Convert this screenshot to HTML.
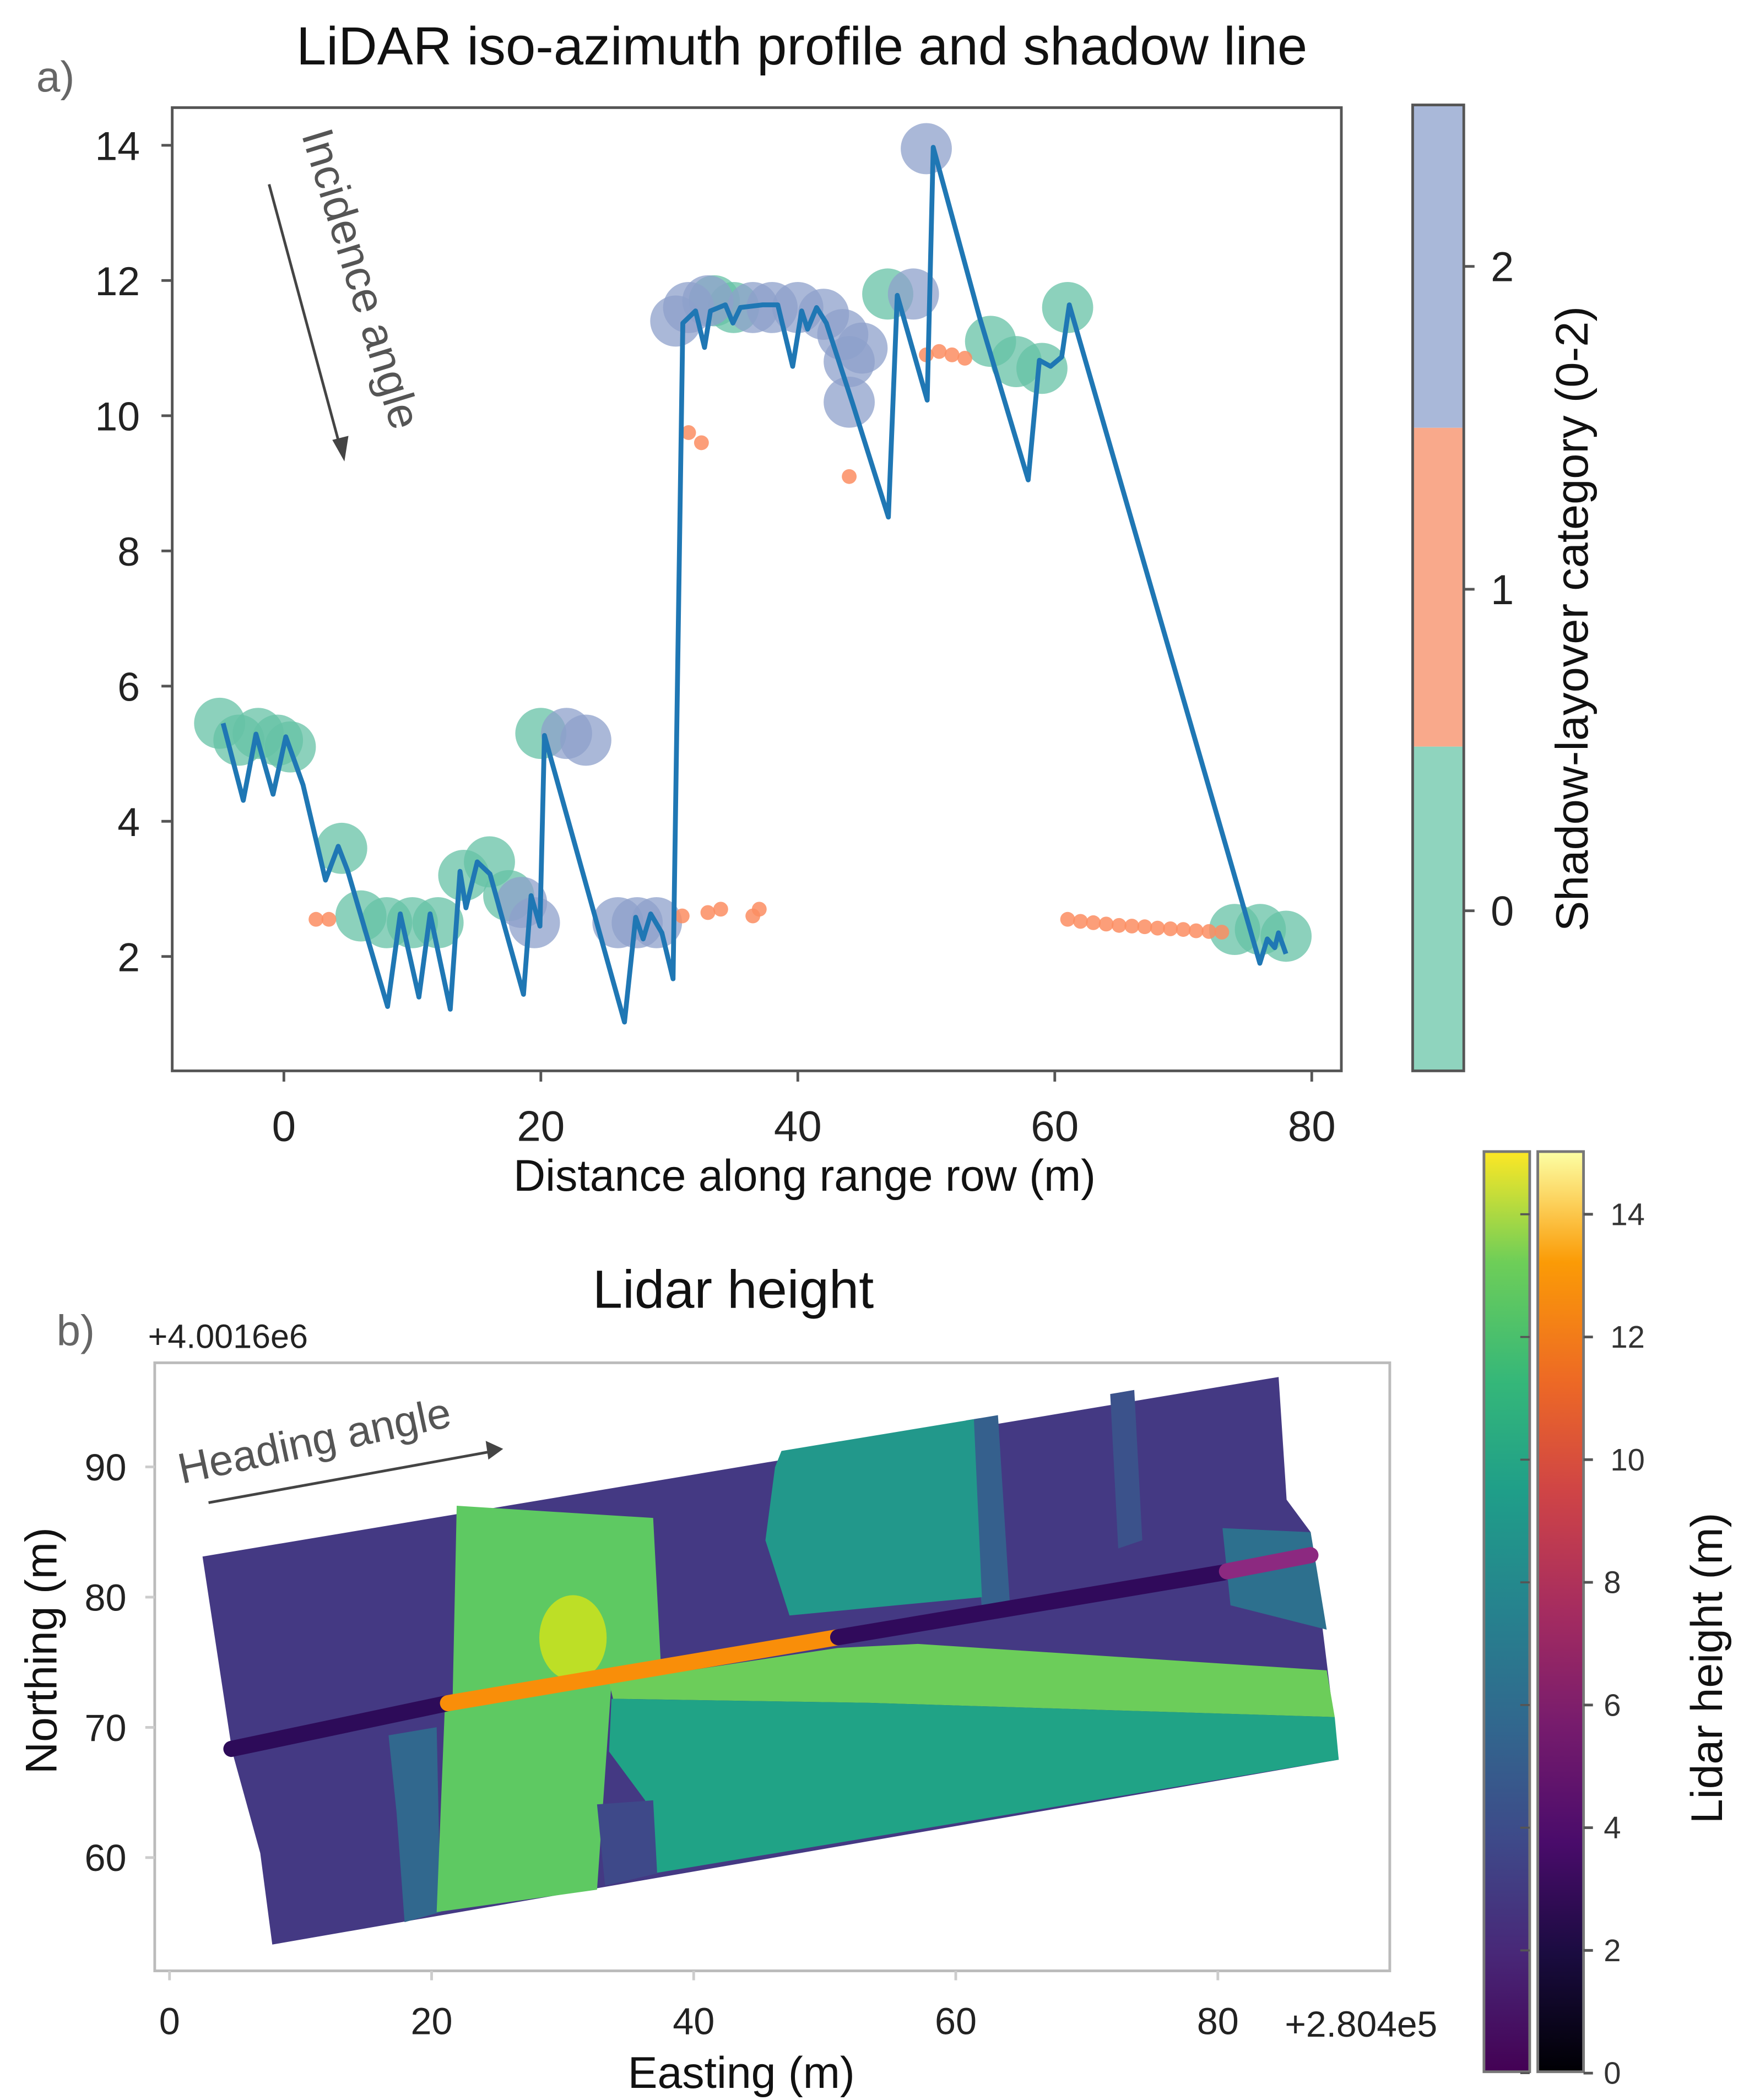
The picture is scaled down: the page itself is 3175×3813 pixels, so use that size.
<!DOCTYPE html>
<html><head><meta charset="utf-8"><style>
html,body{margin:0;padding:0;background:#fff;}
svg{display:block;}
text{font-family:"Liberation Sans","DejaVu Sans",sans-serif;}
</style></head><body>
<svg id="fig" width="3175" height="3813" viewBox="0 0 1300 1561" preserveAspectRatio="none" xmlns="http://www.w3.org/2000/svg">
<defs>
<linearGradient id="viridis" x1="0" y1="1" x2="0" y2="0">
<stop offset="0" stop-color="#440154"/><stop offset="0.13" stop-color="#482878"/><stop offset="0.25" stop-color="#3e4989"/><stop offset="0.38" stop-color="#31688e"/><stop offset="0.5" stop-color="#26828e"/><stop offset="0.63" stop-color="#1f9e89"/><stop offset="0.75" stop-color="#35b779"/><stop offset="0.88" stop-color="#6ece58"/><stop offset="1" stop-color="#fde725"/>
</linearGradient>
<linearGradient id="inferno" x1="0" y1="1" x2="0" y2="0">
<stop offset="0" stop-color="#000004"/><stop offset="0.13" stop-color="#1b0c41"/><stop offset="0.25" stop-color="#4a0c6b"/><stop offset="0.38" stop-color="#781c6d"/><stop offset="0.5" stop-color="#a52c60"/><stop offset="0.63" stop-color="#cf4446"/><stop offset="0.75" stop-color="#ed6925"/><stop offset="0.88" stop-color="#fb9b06"/><stop offset="1" stop-color="#fcffa4"/>
</linearGradient>
</defs>

<!-- Panel a -->
<text x="27" y="68" font-size="32" fill="#666">a)</text>
<text x="596" y="48" font-size="40" text-anchor="middle" fill="#111">LiDAR iso-azimuth profile and shadow line</text>
<g id="axA"></g>
<rect x="128" y="80" width="869" height="716" fill="none" stroke="#555" stroke-width="2"/>
<text x="598" y="885" font-size="33" text-anchor="middle" fill="#111">Distance along range row (m)</text>
<line x1="200" y1="137" x2="253" y2="333" stroke="#444" stroke-width="2"/>
<polygon points="256,343 247,327 259,324" fill="#444"/>
<text x="0" y="0" font-size="33" fill="#555" transform="translate(224,100) rotate(73)">Incidence angle</text>

<!-- colorbar a -->
<rect x="1050" y="78" width="38" height="240" fill="#a9b8d9"/>
<rect x="1050" y="318" width="38" height="237" fill="#f9a98b"/>
<rect x="1050" y="555" width="38" height="241" fill="#8fd4be"/>
<rect x="1050" y="78" width="38" height="718" fill="none" stroke="#555" stroke-width="2"/>
<g stroke="#555" stroke-width="2"><line x1="1088" y1="198" x2="1096" y2="198"/><line x1="1088" y1="438" x2="1096" y2="438"/><line x1="1088" y1="677" x2="1096" y2="677"/></g>
<text x="1108" y="209" font-size="31" fill="#222">2</text>
<text x="1108" y="449" font-size="31" fill="#222">1</text>
<text x="1108" y="688" font-size="31" fill="#222">0</text>
<text x="0" y="0" font-size="34" fill="#111" text-anchor="middle" transform="translate(1180,460) rotate(-90)">Shadow-layover category (0-2)</text>

<!-- Panel b -->
<text x="42" y="1000" font-size="32" fill="#666">b)</text>
<text x="545" y="972" font-size="40" text-anchor="middle" fill="#111">Lidar height</text>
<text x="110" y="1002" font-size="25" fill="#222">+4.0016e6</text>
<rect x="115" y="1013" width="918" height="452" fill="#fff" stroke="#bbb" stroke-width="2"/>
<g transform="translate(110,1000) scale(0.596,0.302)">
<polygon points="68,520 1410,78 1420,380 1450,460 1485,1020 155,1475 140,1250 105,1000" fill="#443983"/>
<polygon points="1020,185 1060,172 1075,640 1040,650" fill="#35608d"/>
<polygon points="1200,120 1230,110 1240,480 1210,500" fill="#3b528b"/>
<polygon points="1340,450 1450,460 1470,700 1350,640" fill="#2d708e"/>
<polygon points="300,960 360,940 365,1395 320,1420 310,1150" fill="#31688e"/>
<polygon points="790,260 1030,182 1040,620 800,665 770,480 782,300" fill="#22988b"/>
<polygon points="385,395 630,425 640,800 578,830 560,1340 360,1395 370,900 380,860" fill="#5ec962"/>
<ellipse cx="530" cy="720" rx="42" ry="105" fill="#bddf26"/>
<polygon points="575,830 860,745 960,735 1470,800 1480,915 900,880 580,870" fill="#6ccd5a"/>
<polygon points="578,870 900,880 1480,915 1485,1020 630,1300 620,1120 575,1000" fill="#20a386"/>
<polygon points="560,1130 630,1120 635,1300 570,1330" fill="#3e4989"/>
</g>
<polyline points="172,1300 333,1266" fill="none" stroke="#2d0b59" stroke-width="12" stroke-linecap="round"/>
<polyline points="333,1266 623,1217" fill="none" stroke="#f98e09" stroke-width="12" stroke-linecap="round"/>
<polyline points="623,1217 909,1169" fill="none" stroke="#300a5b" stroke-width="12" stroke-linecap="round"/>
<polyline points="912,1168 974,1156" fill="none" stroke="#8c2980" stroke-width="12" stroke-linecap="round"/>
<line x1="155" y1="1117" x2="365" y2="1079" stroke="#444" stroke-width="2"/>
<polygon points="374,1077 361,1071 363,1085" fill="#444"/>
<text x="0" y="0" font-size="32" fill="#555" transform="translate(135,1103) rotate(-12)">Heading angle</text>
<g id="axB"></g>
<text x="551" y="1552" font-size="33" text-anchor="middle" fill="#111">Easting (m)</text>
<text x="0" y="0" font-size="33" text-anchor="middle" fill="#111" transform="translate(42,1227) rotate(-90)">Northing (m)</text>
<text x="955" y="1514" font-size="27" fill="#222">+2.804e5</text>

<!-- colorbars b -->
<rect x="1103" y="856" width="34" height="684" fill="url(#viridis)" stroke="#777" stroke-width="2"/>
<rect x="1143" y="856" width="34" height="684" fill="url(#inferno)" stroke="#777" stroke-width="2"/>
<g id="cbB"></g>
<text x="0" y="0" font-size="33" text-anchor="middle" fill="#111" transform="translate(1280,1240) rotate(-90)">Lidar height (m)</text>
</svg>
<script>
const NS="http://www.w3.org/2000/svg";
// Panel a data
const lineX=[-4.73,-3.16,-2.17,-0.84,0.15,1.49,3.24,4.23,4.98,8.07,9.06,10.51,11.38,12.95,13.71,14.17,15.05,16.04,18.65,19.24,19.93,20.28,26.51,27.38,27.96,28.55,29.42,30.29,31.05,32.04,32.74,33.2,34.36,34.95,35.53,37.27,38.44,39.6,40.3,40.76,41.46,42.22,44.25,47.05,47.74,50.07,50.54,54.14,57.93,58.8,59.67,60.54,61.13,75.96,76.54,77.12,77.41,77.99];
const lineY=[5.45,4.31,5.29,4.4,5.25,4.54,3.13,3.63,3.26,1.26,2.63,1.4,2.63,1.22,3.26,2.72,3.4,3.22,1.44,2.9,2.45,5.27,1.03,2.58,2.26,2.63,2.35,1.67,11.37,11.55,11.01,11.55,11.64,11.37,11.6,11.64,11.64,10.73,11.55,11.28,11.6,11.37,10.19,8.5,11.78,10.23,13.97,11.46,9.05,10.82,10.73,10.87,11.64,1.9,2.26,2.13,2.35,2.04];
const bigX=[-5,-3.5,-2,-0.5,0.5,4.5,6,8,10,12,14,16,17.5,20,33.5,35,47,55,57,59,61,74,76,78,18.5,19.5,22,23.5,26,27.5,29,30.5,31.5,33,36.5,38,40,42,43.5,44,44,45,49,50];
const bigY=[5.45,5.2,5.3,5.2,5.1,3.6,2.6,2.5,2.5,2.5,3.2,3.4,2.9,5.3,11.7,11.6,11.8,11.1,10.8,10.7,11.6,2.4,2.4,2.3,2.8,2.5,5.3,5.2,2.5,2.5,2.5,11.4,11.6,11.7,11.6,11.6,11.6,11.5,11.2,10.8,10.2,11,11.8,13.95];
const bigCat=[0,0,0,0,0,0,0,0,0,0,0,0,0,0,0,0,0,0,0,0,0,0,0,0,2,2,2,2,2,2,2,2,2,2,2,2,2,2,2,2,2,2,2,2];
const smallX=[2.5,3.5,31.5,32.5,44,31,33,34,36.5,37,50,51,52,53,61,62,63,64,65,66,67,68,69,70,71,72,73];
const smallY=[2.55,2.55,9.75,9.6,9.1,2.6,2.65,2.7,2.6,2.7,10.9,10.95,10.9,10.85,2.55,2.52,2.5,2.48,2.46,2.45,2.44,2.42,2.41,2.4,2.38,2.37,2.36];
const xTicksA=[0,20,40,60,80];
const yTicksA=[2,4,6,8,10,12,14];
const sxA=d=>211+9.55*d, syA=h=>711-50.25*(h-2);
const axA=document.getElementById('axA');
function mk(tag,attrs,parent){const e=document.createElementNS(NS,tag);for(const k in attrs)e.setAttribute(k,attrs[k]);parent.appendChild(e);return e;}
const catCol={0:"#66c2a5",2:"#8da0cb"};
for(let i=0;i<bigX.length;i++){
  const c=mk('circle',{cx:sxA(bigX[i]),cy:syA(bigY[i]),r:19,fill:catCol[bigCat[i]],'fill-opacity':0.75},axA);
  
  
}
for(let i=0;i<smallX.length;i++){
  const c=mk('circle',{cx:sxA(smallX[i]),cy:syA(smallY[i]),r:5.5,fill:"#fc8d62",'fill-opacity':0.85},axA);
  
  
}
const pl=mk('polyline',{points:lineX.map((x,i)=>sxA(x)+','+syA(lineY[i])).join(' '),fill:'none',stroke:'#1f77b4','stroke-width':3.6,'stroke-linejoin':'round'},axA);


xTicksA.forEach(v=>{
  mk('line',{x1:sxA(v),y1:796,x2:sxA(v),y2:804,stroke:'#555','stroke-width':2},axA);
  const t=mk('text',{x:sxA(v),y:848,'font-size':32,'text-anchor':'middle',fill:'#222'},axA);
  t.textContent=v;
  
  
});
yTicksA.forEach(v=>{
  mk('line',{x1:120,y1:syA(v),x2:128,y2:syA(v),stroke:'#555','stroke-width':2},axA);
  const t=mk('text',{x:104,y:syA(v)+11,'font-size':30,'text-anchor':'end',fill:'#222'},axA);
  t.textContent=v;
  
  
});
// Panel b axes
const xTicksB=[0,20,40,60,80];
const yTicksB=[60,70,80,90];
const cbTicks=[0,2,4,6,8,10,12,14];
const sxB=d=>126+9.74*d, syB=n=>1284-9.68*(n-70);
const axB=document.getElementById('axB');
xTicksB.forEach(v=>{
  mk('line',{x1:sxB(v),y1:1465,x2:sxB(v),y2:1472,stroke:'#ccc','stroke-width':2},axB);
  const t=mk('text',{x:sxB(v),y:1512,'font-size':28,'text-anchor':'middle',fill:'#222'},axB);
  t.textContent=v;
  
  
});
yTicksB.forEach(v=>{
  mk('line',{x1:108,y1:syB(v),x2:115,y2:syB(v),stroke:'#ccc','stroke-width':2},axB);
  const t=mk('text',{x:94,y:syB(v)+10,'font-size':28,'text-anchor':'end',fill:'#222'},axB);
  t.textContent=v;
  
  
});
const cbB=document.getElementById('cbB');
const syC=v=>1541-45.6*v;
cbTicks.forEach(v=>{
  mk('line',{x1:1177,y1:syC(v),x2:1184,y2:syC(v),stroke:'#555','stroke-width':2},cbB);
  mk('line',{x1:1130,y1:syC(v),x2:1137,y2:syC(v),stroke:'#555','stroke-width':1.5},cbB);
  const t=mk('text',{x:v>=10?1197:1192,y:syC(v)+8,'font-size':23,fill:'#333'},cbB);
  t.textContent=v;
  
  
});
</script>
</body></html>
